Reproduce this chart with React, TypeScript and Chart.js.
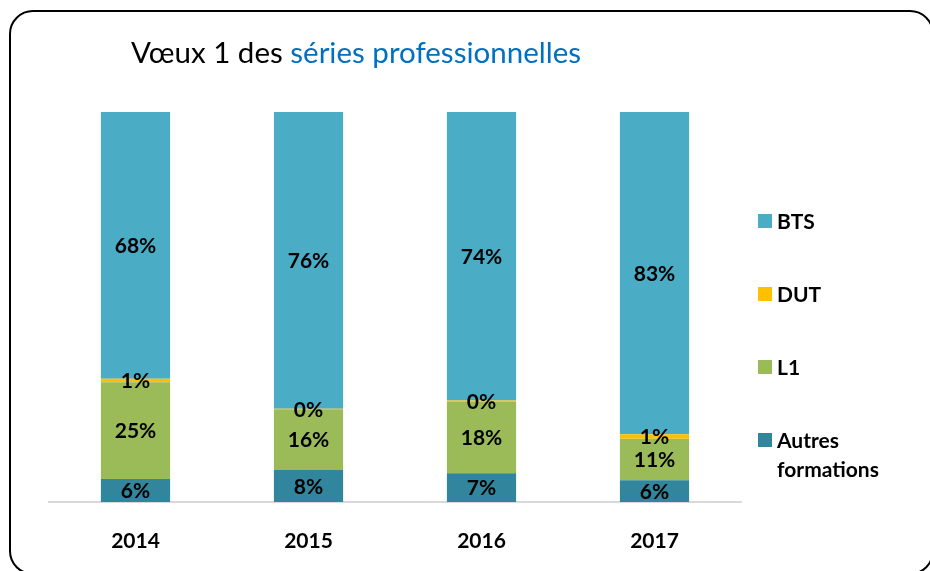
import React, { useEffect, useRef } from "react";
import { Chart, registerables } from "chart.js";

Chart.register(...registerables);

const years = ["2014", "2015", "2016", "2017"];
const seriesNames = ["Autres formations", "L1", "DUT", "BTS"];
const autres = [5.9, 8.2, 7.4, 5.6];
const l1 = [24.8, 15.6, 18.4, 10.6];
const dut = [0.9, 0.1, 0.2, 1.2];
const bts = [68.4, 76.1, 74.0, 82.6];
const seriesColors = ["#31859c", "#9bbb59", "#ffc000", "#4bacc6"];
const legendLines = [["Autres", "formations"], ["L1"], ["DUT"], ["BTS"]];
const titleBlack = "Vœux 1 des ";
const titleBlue = "séries professionnelles";

const FONT = "Lato, 'Open Sans', sans-serif";

const labelPlugin = {
  id: "segLabels",
  afterDatasetsDraw(chart: any) {
    const ctx = chart.ctx;
    ctx.save();
    ctx.font = `bold 21px ${FONT}`;
    ctx.fillStyle = "#000";
    ctx.textAlign = "center";
    ctx.textBaseline = "middle";
    chart.data.datasets.forEach((ds: any, i: number) => {
      const meta = chart.getDatasetMeta(i);
      meta.data.forEach((bar: any, j: number) => {
        const p = bar.getProps(["x", "y", "base"], true);
        ctx.fillText(Math.round(ds.data[j]) + "%", p.x, (p.y + p.base) / 2 + 1);
      });
    });
    ctx.restore();
  },
};

const decorPlugin = {
  id: "decor",
  afterDraw(chart: any) {
    const ctx = chart.ctx;
    ctx.save();
    // title
    ctx.font = `29.5px ${FONT}`;
    ctx.textBaseline = "alphabetic";
    ctx.textAlign = "left";
    ctx.fillStyle = "#000";
    const tx = 131;
    const ty = 63;
    ctx.fillText(titleBlack, tx, ty);
    const w = ctx.measureText(titleBlack).width;
    ctx.fillStyle = "#0070c0";
    ctx.fillText(titleBlue, tx + w, ty);
    // legend (reverse order)
    const n = chart.data.datasets.length;
    ctx.font = `bold 21px ${FONT}`;
    ctx.textBaseline = "middle";
    for (let k = 0; k < n; k++) {
      const i = n - 1 - k;
      const ds = chart.data.datasets[i];
      const cy = 221 + k * 73;
      ctx.fillStyle = ds.backgroundColor;
      ctx.fillRect(758, cy - 7, 14, 14);
      ctx.fillStyle = "#000";
      legendLines[i].forEach((line, li) => {
        ctx.fillText(line, 777, cy + 1 + li * 29);
      });
    }
    ctx.restore();
  },
};

export default function App() {
  const ref = useRef<HTMLCanvasElement>(null);
  useEffect(() => {
    if (!ref.current) return;
    const values = [autres, l1, dut, bts];
    const chart = new Chart(ref.current, {
      type: "bar",
      data: {
        labels: years,
        datasets: seriesNames.map((name, i) => ({
          label: name,
          data: values[i],
          backgroundColor: seriesColors[i],
          borderWidth: 0,
          barPercentage: 0.4,
          categoryPercentage: 1,
        })),
      },
      options: {
        responsive: false,
        animation: false,
        devicePixelRatio: 1,
        layout: { padding: { left: 49, right: 189, top: 112, bottom: 0 } },
        plugins: {
          legend: { display: false },
          tooltip: { enabled: false },
          title: { display: false },
        },
        scales: {
          x: {
            stacked: true,
            grid: { display: false, drawTicks: false },
            border: { display: true, color: "#d9d9d9", width: 2 },
            ticks: {
              padding: 27,
              color: "#000",
              font: { family: FONT, size: 21, weight: "bold" },
            },
            afterFit(scale: any) {
              scale.height = 69;
            },
          },
          y: {
            stacked: true,
            display: false,
            min: 0,
            max: 100,
          },
        },
      },
      plugins: [labelPlugin, decorPlugin],
    } as any);
    return () => chart.destroy();
  }, []);

  return (
    <div
      style={{
        position: "absolute",
        left: 0,
        top: 0,
        width: 930,
        height: 571,
        overflow: "hidden",
        background: "#fff",
      }}
    >
      <canvas
        ref={ref}
        width={930}
        height={571}
        style={{ position: "absolute", left: 0, top: 0, width: 930, height: 571 }}
      />
      <div
        style={{
          position: "absolute",
          left: 9,
          top: 10,
          width: 925,
          height: 565,
          border: "2px solid #000",
          borderRadius: 24,
          boxSizing: "border-box",
          pointerEvents: "none",
        }}
      />
    </div>
  );
}
